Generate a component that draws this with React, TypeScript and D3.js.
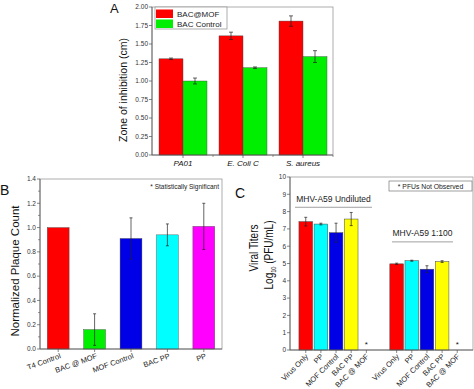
import React from 'react';
import * as d3 from 'd3';

// canvas
const width = 474;
const height = 389;
const font = 'Liberation Sans, Arial, sans-serif';
const axisColor = '#555';
const frameColor = '#999';
const textColor = '#333';

// panel A - zone of inhibition
const inhibitionCats = ['PA01', 'E. Coli C', 'S. aureus'];
const inhibitionSeries = ['BAC@MOF', 'BAC Control'];
const inhibitionColors = ['#ff0000', '#00ee00'];
const bacMofZone = [1.3, 1.61, 1.81];
const bacMofZoneErr = [0.01, 0.05, 0.07];
const bacControlZone = [1.0, 1.18, 1.33];
const bacControlZoneErr = [0.04, 0.01, 0.08];
const inhibitionTicks = [0, 0.25, 0.5, 0.75, 1, 1.25, 1.5, 1.75, 2];

// panel B - plaque count
const plaqueCats = ['T4 Control', 'BAC @ MOF', 'MOF Control', 'BAC PP', 'PP'];
const plaqueColors = ['#ff0000', '#00ee00', '#0000e6', '#00ffff', '#ff00ff'];
const plaqueValues = [1.0, 0.16, 0.91, 0.94, 1.01];
const plaqueErr = [0, 0.13, 0.17, 0.09, 0.19];
const plaqueTicks = [0, 0.2, 0.4, 0.6, 0.8, 1.0, 1.2, 1.4];

// panel C - viral titers
const titerLabels = ['Virus Only', 'PP', 'MOF Control', 'BAC PP', 'BAC @ MOF'];
const titerColors = ['#ff0000', '#00ffff', '#0000e6', '#ffff00', 'none'];
const titerGroups = ['MHV-A59 Undiluted', 'MHV-A59 1:100'];
const undilutedTiter = [7.42, 7.28, 6.78, 7.57, 0];
const undilutedErr = [0.25, 0.05, 0.55, 0.38, 0];
const dilutedTiter = [4.98, 5.16, 4.67, 5.11, 0];
const dilutedErr = [0.04, 0.03, 0.2, 0.05, 0];
const titerTicks = [0, 1, 2, 3, 4, 5, 6, 7, 8, 9, 10];

const ErrorBar = ({ x, y, v, e, cap = 2 }) => {
  if (!e) return null;
  const top = y(v + e);
  const bot = y(v - e);
  return (
    <g stroke="#222" strokeWidth={0.7}>
      <line x1={x} x2={x} y1={top} y2={bot} />
      <line x1={x - cap} x2={x + cap} y1={top} y2={top} />
      <line x1={x - cap} x2={x + cap} y1={bot} y2={bot} />
    </g>
  );
};

const YAxis = ({ y, x, ticks, fmt, minor = [] }) => (
  <g>
    <line x1={x} x2={x} y1={y.range()[0]} y2={y.range()[1]} stroke={axisColor} strokeWidth={0.8} />
    {minor.map((t) => (
      <line key={'m' + t} x1={x - 2} x2={x} y1={y(t)} y2={y(t)} stroke={axisColor} strokeWidth={0.6} />
    ))}
    {ticks.map((t) => (
      <g key={t}>
        <line x1={x - 3} x2={x} y1={y(t)} y2={y(t)} stroke={axisColor} strokeWidth={0.7} />
        <text x={x - 4} y={y(t) + 2.3} fontSize={6.5} textAnchor="end" fill={textColor}>
          {fmt(t)}
        </text>
      </g>
    ))}
  </g>
);

// A
const aX0 = d3.scaleBand().domain(inhibitionCats).range([153, 333]).paddingInner(0.2).paddingOuter(0.1);
const aX1 = d3.scaleBand().domain(inhibitionSeries).range([0, aX0.bandwidth()]);
const aY = d3.scaleLinear().domain([0, 2]).range([155, 7]);
const aSeriesVals = [bacMofZone, bacControlZone];
const aSeriesErr = [bacMofZoneErr, bacControlZoneErr];

const PanelA = () => {
  const step = aX0.step();
  return (
    <g>
      <rect x={152} y={7} width={181} height={148} fill="none" stroke={frameColor} strokeWidth={0.8} />
      {inhibitionSeries.map((s, si) =>
        inhibitionCats.map((c, ci) => (
          <rect
            key={s + c}
            x={aX0(c) + aX1(s)}
            y={aY(aSeriesVals[si][ci])}
            width={aX1.bandwidth()}
            height={aY(0) - aY(aSeriesVals[si][ci])}
            fill={inhibitionColors[si]}
            stroke="#444"
            strokeWidth={0.4}
          />
        ))
      )}
      {inhibitionSeries.map((s, si) =>
        inhibitionCats.map((c, ci) => (
          <ErrorBar
            key={'e' + s + c}
            x={aX0(c) + aX1(s) + aX1.bandwidth() / 2}
            y={aY}
            v={aSeriesVals[si][ci]}
            e={aSeriesErr[si][ci]}
          />
        ))
      )}
      <YAxis y={aY} x={152} ticks={inhibitionTicks} fmt={d3.format('.2f')} />
      <line x1={152} x2={333} y1={155} y2={155} stroke={axisColor} strokeWidth={0.8} />
      {inhibitionCats.map((c) => {
        const cx = aX0(c) + aX0.bandwidth() / 2;
        return (
          <g key={c}>
            <line x1={cx} x2={cx} y1={155} y2={158} stroke={axisColor} strokeWidth={0.7} />
            <line x1={cx + step / 2} x2={cx + step / 2} y1={155} y2={157} stroke={axisColor} strokeWidth={0.6} />
            <text x={cx} y={166} fontSize={8} fontStyle="italic" textAnchor="middle" fill="#111">
              {c}
            </text>
          </g>
        );
      })}
      <text transform="translate(127,90) rotate(-90)" fontSize={10.5} textAnchor="middle" fill="#111">
        Zone of inhibition (cm)
      </text>
      <rect x={155} y={7} width={72} height={22} fill="#fff" stroke={frameColor} strokeWidth={0.8} />
      {inhibitionSeries.map((s, i) => (
        <g key={s} transform={`translate(156,${9.5 + i * 10})`}>
          <rect width={17} height={8.5} fill={inhibitionColors[i]} />
          <text x={21} y={7.5} fontSize={8} fill="#222">
            {s}
          </text>
        </g>
      ))}
      <text x={110} y={13} fontSize={13} fill="#111">A</text>
    </g>
  );
};

// B
const bX = d3.scaleBand().domain(plaqueCats).range([40, 222]).paddingInner(0.4).paddingOuter(0.2);
const bY = d3.scaleLinear().domain([0, 1.4]).range([349, 179]);

const PanelB = () => (
  <g>
    <rect x={40} y={179} width={182} height={170} fill="none" stroke={frameColor} strokeWidth={0.8} />
    {plaqueCats.map((c, i) => (
      <rect
        key={c}
        x={bX(c)}
        y={bY(plaqueValues[i])}
        width={bX.bandwidth()}
        height={bY(0) - bY(plaqueValues[i])}
        fill={plaqueColors[i]}
        stroke="#444"
        strokeWidth={0.4}
      />
    ))}
    {plaqueCats.map((c, i) => (
      <ErrorBar key={'e' + c} x={bX(c) + bX.bandwidth() / 2} y={bY} v={plaqueValues[i]} e={plaqueErr[i]} cap={1.5} />
    ))}
    <YAxis
      y={bY}
      x={40}
      ticks={plaqueTicks}
      fmt={d3.format('.1f')}
      minor={bY.ticks(14).filter((t) => Math.round(t * 10) % 2 === 1)}
    />
    <line x1={40} x2={222} y1={349} y2={349} stroke={axisColor} strokeWidth={0.8} />
    {plaqueCats.map((c) => {
      const cx = bX(c) + bX.bandwidth() / 2;
      return (
        <g key={c}>
          <line x1={cx} x2={cx} y1={349} y2={352} stroke={axisColor} strokeWidth={0.7} />
          <text transform={`translate(${cx + 3},${358}) rotate(-20)`} fontSize={7.5} textAnchor="end" fill="#222">
            {c}
          </text>
        </g>
      );
    })}
    <text x={219} y={189} fontSize={6.5} textAnchor="end" fill="#222">
      * Statistically Significant
    </text>
    <text transform="translate(19,271) rotate(-90)" fontSize={11.5} textAnchor="middle" fill="#111">
      Normalized Plaque Count
    </text>
    <text x={0} y={195} fontSize={14} fill="#111">B</text>
  </g>
);

// C
const cX = d3
  .scaleBand()
  .domain(d3.range(11).map(String))
  .range([290, 473])
  .paddingInner(0.1)
  .paddingOuter(0.59);
const cY = d3.scaleLinear().domain([0, 10]).range([350, 177]);
const titerSets = [
  { name: titerGroups[0], vals: undilutedTiter, err: undilutedErr, offset: 0, labelV: 8.55, lineV: 8.25, span: [295, 372] },
  { name: titerGroups[1], vals: dilutedTiter, err: dilutedErr, offset: 6, labelV: 6.6, lineV: 6.25, span: [392, 453] },
];

const PanelC = () => (
  <g>
    <rect x={290} y={177} width={183} height={173} fill="none" stroke={frameColor} strokeWidth={0.8} />
    {titerSets.map((g) => (
      <g key={g.name}>
        {titerLabels.map((l, i) => {
          const slot = String(g.offset + i);
          const cx = cX(slot) + cX.bandwidth() / 2;
          if (titerColors[i] === 'none') {
            return (
              <text key={l} x={cx} y={347} fontSize={8} textAnchor="middle" fill="#111">
                *
              </text>
            );
          }
          return (
            <g key={l}>
              <rect
                x={cX(slot)}
                y={cY(g.vals[i])}
                width={cX.bandwidth()}
                height={cY(0) - cY(g.vals[i])}
                fill={titerColors[i]}
                stroke="#444"
                strokeWidth={0.5}
              />
              <ErrorBar x={cx} y={cY} v={g.vals[i]} e={g.err[i]} cap={1.5} />
            </g>
          );
        })}
        <text x={(g.span[0] + g.span[1]) / 2} y={cY(g.labelV)} fontSize={8.5} textAnchor="middle" fill="#222">
          {g.name}
        </text>
        <line x1={g.span[0]} x2={g.span[1]} y1={cY(g.lineV)} y2={cY(g.lineV)} stroke="#888" strokeWidth={0.8} />
      </g>
    ))}
    <YAxis y={cY} x={290} ticks={titerTicks} fmt={d3.format('d')} />
    <line x1={290} x2={473} y1={350} y2={350} stroke={axisColor} strokeWidth={0.8} />
    {titerSets.map((g) =>
      titerLabels.map((l, i) => {
        const cx = cX(String(g.offset + i)) + cX.bandwidth() / 2;
        return (
          <g key={g.name + l}>
            <line x1={cx} x2={cx} y1={350} y2={353} stroke={axisColor} strokeWidth={0.7} />
            <text transform={`translate(${cx + 3},${357}) rotate(-45)`} fontSize={7.5} textAnchor="end" fill="#222">
              {l}
            </text>
          </g>
        );
      })
    )}
    <rect x={389} y={181} width={83} height={10} fill="#fff" stroke="#777" strokeWidth={0.7} />
    <text x={430.5} y={188.5} fontSize={6.8} textAnchor="middle" fill="#222">
      * PFUs Not Observed
    </text>
    <text transform="translate(258,248) rotate(-90) scale(0.8,1)" fontSize={12.5} textAnchor="middle" fill="#111">
      Viral Titers
    </text>
    <text transform="translate(273,255) rotate(-90) scale(0.8,1)" fontSize={12.5} textAnchor="middle" fill="#111">
      Log<tspan fontSize={7} dy={3}>10</tspan>
      <tspan dy={-3}> (PFU/mL)</tspan>
    </text>
    <text x={235} y={198} fontSize={14} fill="#111">C</text>
  </g>
);

const App = () => (
  <svg
    width={width}
    height={height}
    style={{ position: 'absolute', left: 0, top: 0, background: '#fff' }}
    fontFamily={font}
  >
    <PanelA />
    <PanelB />
    <PanelC />
  </svg>
);

export default App;
